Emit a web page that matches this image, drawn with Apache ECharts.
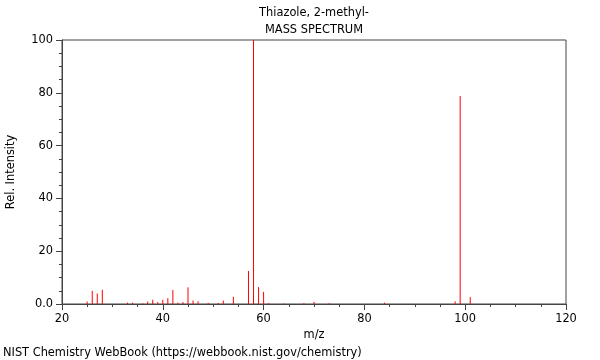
<!DOCTYPE html>
<html>
<head>
<meta charset="utf-8">
<script src="https://cdn.jsdelivr.net/npm/echarts@6/dist/echarts.min.js"></script>
<style>
    html, body {margin: 0; padding: 0; background: #fff;}
    #chart {width: 600px; height: 360px;}
</style>
</head>
<body>
<div id="chart"></div>
<script>
// m/z 和相对强度
var massCharge = [25, 26, 27, 28, 33, 34, 36, 37, 38, 39, 40, 41, 42, 43, 44, 45, 46, 47, 49, 51,
    52, 54, 57, 58, 59, 60, 61, 64, 68, 70, 73, 84, 98, 99, 101];
var relIntensity = [0.9, 5.0, 4.0, 5.4, 0.5, 0.5, 0.2, 0.9, 1.6, 0.7, 1.6, 2.2, 5.3, 0.5, 0.7, 6.3, 1.3, 1.0, 0.4, 0.4,
    1.3, 2.7, 12.5, 100, 6.4, 4.6, 0.3, 0.2, 0.3, 0.8, 0.3, 0.5, 1.0, 78.8, 2.6];
var titleLines = ['Thiazole, 2-methyl-', 'MASS SPECTRUM'];
var footerText = 'NIST Chemistry WebBook (https://webbook.nist.gov/chemistry)';

var font = 'DejaVu Sans';
var fontSize = 11.4;
var axisColor = '#444';

var peaks = massCharge.map(function (m, i) {
    return [m, relIntensity[i]];
});

function textEl(str, x, y, align) {
    return {
        type: 'text', x: x, y: y,
        style: {text: str, font: fontSize + 'px "DejaVu Sans"', fill: '#000', textAlign: align, textVerticalAlign: 'middle'}
    };
}

var myChart = echarts.init(document.getElementById('chart'));

var option = {
    animation: false,
    textStyle: {fontFamily: font},
    grid: {
        left: 62, right: 34, top: 40, bottom: 56,
        show: true, borderColor: axisColor, borderWidth: 1,
        containLabel: false,
        outerBoundsMode: 'none'
    },
    graphic: [
        textEl(titleLines[0], 314, 13, 'center'),
        textEl(titleLines[1], 314, 30, 'center'),
        textEl(footerText, 3, 353, 'left')
    ],
    xAxis: {
        type: 'value', min: 20, max: 120, interval: 20,
        name: 'm/z', nameLocation: 'middle', nameGap: 24,
        nameTextStyle: {fontFamily: font, fontSize: fontSize, color: '#000'},
        axisLine: {lineStyle: {color: axisColor, width: 1}},
        axisTick: {show: true, length: 6, lineStyle: {color: axisColor}},
        minorTick: {show: true, splitNumber: 4, length: 3, lineStyle: {color: axisColor}},
        axisLabel: {fontFamily: font, fontSize: fontSize, color: '#000', margin: 10},
        splitLine: {show: false}
    },
    yAxis: {
        type: 'value', min: 0, max: 100, interval: 20,
        name: 'Rel. Intensity', nameLocation: 'middle', nameGap: 45,
        nameTextStyle: {fontFamily: font, fontSize: fontSize, color: '#000'},
        axisLine: {show: true, lineStyle: {color: axisColor, width: 1}},
        axisTick: {show: true, length: 6, lineStyle: {color: axisColor}},
        minorTick: {show: true, splitNumber: 4, length: 3, lineStyle: {color: axisColor}},
        axisLabel: {
            fontFamily: font, fontSize: fontSize, color: '#000', margin: 9,
            formatter: function (v) { return v === 0 ? '0.0' : v; }
        },
        splitLine: {show: false}
    },
    series: [{
        type: 'custom',
        data: peaks,
        renderItem: function (params, api) {
            var base = api.coord([api.value(0), 0]);
            var top = api.coord([api.value(0), api.value(1)]);
            return {
                type: 'line',
                shape: {x1: base[0], y1: base[1], x2: base[0], y2: top[1]},
                style: {stroke: '#ff0000', lineWidth: 1}
            };
        }
    }]
};

myChart.setOption(option);
</script>
</body>
</html>
